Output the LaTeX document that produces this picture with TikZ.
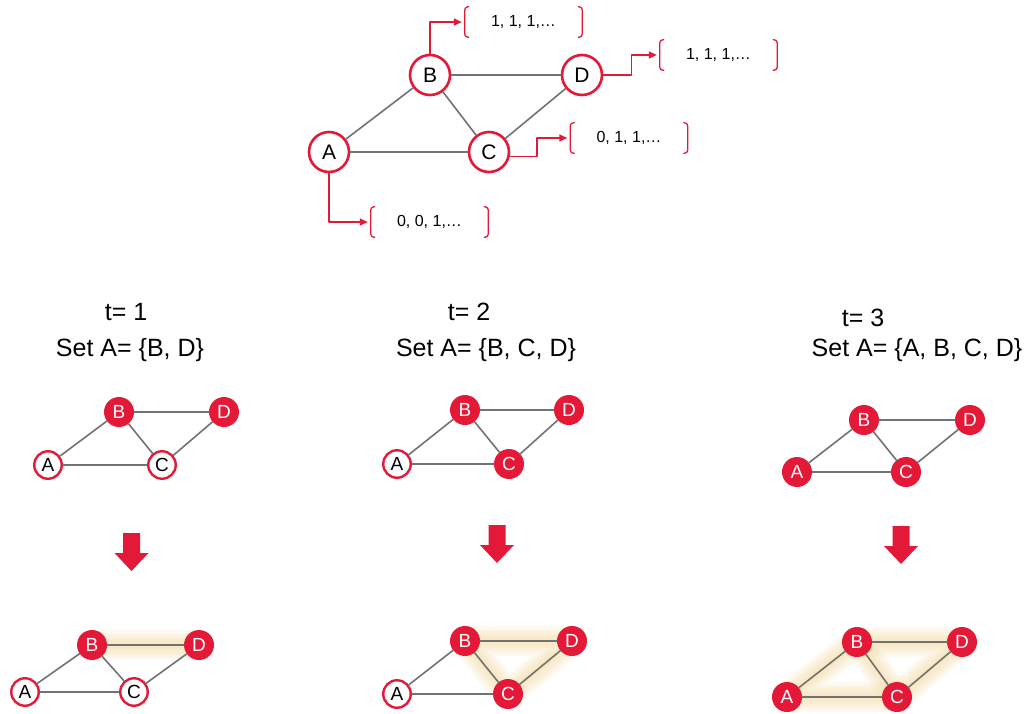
\documentclass[tikz,border=0pt]{standalone}
\usepackage{fontspec}
\setmainfont{Liberation Sans}
\usepackage{tikz}
\usetikzlibrary{arrows.meta,backgrounds}
\usepackage{xcolor}
\definecolor{hot}{HTML}{E31937}
\definecolor{edgegray}{HTML}{727272}
\definecolor{glowc}{HTML}{EDC978}
\tikzset{
  >={Triangle[length=8pt,width=7pt]},
  bignode/.style={circle,draw=hot,line width=2.6pt,fill=white,minimum size=40pt,
                  inner sep=0pt,font=\fontsize{21}{21}\selectfont},
  seqbox/.style={minimum width=117pt,minimum height=30pt,inner sep=0pt,
                 font=\fontsize{16}{16}\selectfont},
  brk/.style={draw=hot,line width=1.3pt,rounded corners=3pt},
  link/.style={->,draw=hot,line width=1.4pt,shorten >=3pt},
  gline/.style={draw=edgegray,line width=1.6pt},
  idle/.style={circle,draw=hot,line width=2.4pt,fill=white,minimum size=27.5pt,
               inner sep=0pt,font=\fontsize{19}{19}\selectfont},
  actv/.style={circle,fill=hot,text=white,minimum size=30pt,inner sep=0pt,
               font=\fontsize{19}{19}\selectfont},
  downarr/.pic={\fill[hot] (-8.5,-19) -- (8.5,-19) -- (8.5,1) -- (17,1)
                  -- (0,19) -- (-17,1) -- (-8.5,1) -- cycle;},
  glow/.style={draw=glowc,line width=#1,opacity=0.09,line cap=round,line join=round},
  steplabel/.style={font=\fontsize{25}{30}\selectfont}
}

\begin{document}
\begin{tikzpicture}[x=1pt,y=-1pt,line cap=round,line join=round]
  \useasboundingbox (0,0) rectangle (1031,713);

  % Graph with sequences
  \node[bignode] (A) at (329,152) {A};
  \node[bignode] (B) at (430,75) {B};
  \node[bignode] (C) at (489,152) {C};
  \node[bignode] (D) at (582,75) {D};
  \foreach \u/\v in {A/B,A/C,B/C,B/D,C/D}
    \draw[gline] (\u) -- (\v);
  \node[seqbox] (brB) at (523.5,22) {1, 1, 1,\dots};
  \node[seqbox] (brD) at (718.5,55) {1, 1, 1,\dots};
  \node[seqbox] (brC) at (629,138) {0, 1, 1,\dots};
  \node[seqbox] (brA) at (429.5,222) {0, 0, 1,\dots};
  \foreach \b in {brA,brB,brC,brD} {
    \draw[brk] ([xshift=4pt]\b.north west) -- (\b.north west)
      -- (\b.south west) -- ([xshift=4pt]\b.south west);
    \draw[brk] ([xshift=-4pt]\b.north east) -- (\b.north east)
      -- (\b.south east) -- ([xshift=-4pt]\b.south east);
  }
  \draw[link] (B.north) |- (brB.west);
  \draw[link] (D.east) -- ++(28,0) |- (brD.west);
  \draw[link] (C.-12) -- ++(27,0) |- (brC.west);
  \draw[link] (A.south) |- (brA.west);

  % t = 1
  \node[steplabel] (t1) at (126,312) {t= 1};
  \node[steplabel] (s1) at (130,350) {Set A= \{B, D\}};
  \begin{scope}
    \node[idle] (A) at (48,465) {A};
    \node[actv] (B) at (119,412) {B};
    \node[idle] (C) at (162,465) {C};
    \node[actv] (D) at (224,412) {D};
    \foreach \u/\v in {A/B,A/C,B/C,B/D,C/D}
      \draw[gline] (\u) -- (\v);
  \end{scope}
  \pic at (131.5,552) {downarr};
  \begin{scope}
    \node[idle] (A) at (25,692) {A};
    \node[actv] (B) at (92,645) {B};
    \node[idle] (C) at (134,692) {C};
    \node[actv] (D) at (199,645) {D};
    \foreach \u/\v in {A/B,A/C,B/C,B/D,C/D}
      \draw[gline] (\u) -- (\v);
    \begin{scope}[on background layer]
      \foreach \w in {5,10,...,30}
        \draw[glow=\w pt] (B.center) -- (D.center);
    \end{scope}
  \end{scope}

  % t = 2
  \node[steplabel] (t2) at (469,312) {t= 2};
  \node[steplabel] (s2) at (486,350) {Set A= \{B, C, D\}};
  \begin{scope}
    \node[idle] (A) at (397,464) {A};
    \node[actv] (B) at (465,410) {B};
    \node[actv] (C) at (509,464) {C};
    \node[actv] (D) at (569,410) {D};
    \foreach \u/\v in {A/B,A/C,B/C,B/D,C/D}
      \draw[gline] (\u) -- (\v);
  \end{scope}
  \pic at (497,544) {downarr};
  \begin{scope}
    \node[idle] (A) at (397,694) {A};
    \node[actv] (B) at (465,641) {B};
    \node[actv] (C) at (508,694) {C};
    \node[actv] (D) at (572,641) {D};
    \foreach \u/\v in {A/B,A/C,B/C,B/D,C/D}
      \draw[gline] (\u) -- (\v);
    \begin{scope}[on background layer]
      \foreach \w in {5,10,...,30}
        \draw[glow=\w pt] (B.center) -- (D.center) -- (C.center) -- cycle;
    \end{scope}
  \end{scope}

  % t = 3
  \node[steplabel] (t3) at (863,318) {t= 3};
  \node[steplabel] (s3) at (917,350) {Set A= \{A, B, C, D\}};
  \begin{scope}
    \node[actv] (A) at (797,472) {A};
    \node[actv] (B) at (864,420) {B};
    \node[actv] (C) at (906,472) {C};
    \node[actv] (D) at (970,420) {D};
    \foreach \u/\v in {A/B,A/C,B/C,B/D,C/D}
      \draw[gline] (\u) -- (\v);
  \end{scope}
  \pic at (901,545) {downarr};
  \begin{scope}
    \node[actv] (A) at (787,697) {A};
    \node[actv] (B) at (857,642) {B};
    \node[actv] (C) at (897,697) {C};
    \node[actv] (D) at (962,642) {D};
    \foreach \u/\v in {A/B,A/C,B/C,B/D,C/D}
      \draw[gline] (\u) -- (\v);
    \begin{scope}[on background layer]
      \foreach \w in {5,10,...,30} {
        \draw[glow=\w pt] (A.center) -- (B.center) -- (D.center)
          -- (C.center) -- cycle;
        \draw[glow=\w pt] (B.center) -- (C.center);
      }
    \end{scope}
  \end{scope}
\end{tikzpicture}
\end{document}
